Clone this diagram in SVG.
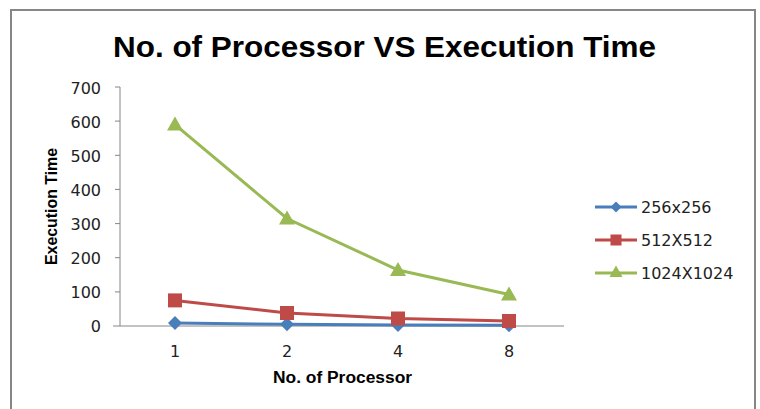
<svg xmlns="http://www.w3.org/2000/svg" width="760" height="409" viewBox="0 0 760 409">
  <style>
    .frame { fill: #ffffff; stroke: #868686; stroke-width: 2; }
    .axis { stroke: #868686; stroke-width: 1; fill: none; }
    .tick { font-family: "DejaVu Sans", Verdana, sans-serif; font-size: 16px; fill: #222; }
    .ylab { text-anchor: end; }
    .xlab { text-anchor: middle; }
    .title { font-family: "Liberation Sans", Arial, sans-serif; font-weight: bold; font-size: 30px; fill: #000; }
    .axtitle { font-family: "Liberation Sans", Arial, sans-serif; font-weight: bold; font-size: 16px; fill: #000; }
    .legend { font-family: "DejaVu Sans", Verdana, sans-serif; font-size: 16px; fill: #222; }
    .s1 { stroke: #4A7EBB; fill: none; stroke-width: 3; }
    .s2 { stroke: #BE4B48; fill: none; stroke-width: 3; }
    .s3 { stroke: #98B954; fill: none; stroke-width: 3; }
  </style>
  <defs>
    <path id="diamond" d="M0,-7 L7,0 L0,7 L-7,0 Z" fill="#4A7EBB"/>
    <rect id="square" x="-7" y="-7" width="14" height="14" fill="#BE4B48"/>
    <path id="triangle" d="M0,-8 L8,6 L-8,6 Z" fill="#98B954"/>
    <path id="diamond-s" d="M0,-5.5 L5.5,0 L0,5.5 L-5.5,0 Z" fill="#4A7EBB"/>
    <rect id="square-s" x="-5.5" y="-5.5" width="11" height="11" fill="#BE4B48"/>
    <path id="triangle-s" d="M0,-6.5 L6.5,5 L-6.5,5 Z" fill="#98B954"/>
  </defs>

  <rect class="frame" x="11" y="10" width="744" height="410"/>

  <text class="title" x="384.5" y="57" text-anchor="middle" textLength="543" lengthAdjust="spacingAndGlyphs">No. of Processor VS Execution Time</text>

  <!-- axes, ticks and axis labels -->
  <g id="axes">
    <path class="axis" d="M120,87 V326 M113,326 H564"/>
    <path class="axis" d="M115,87 H120 M115,121.1 H120 M115,155.3 H120 M115,189.4 H120 M115,223.6 H120 M115,257.7 H120 M115,291.9 H120"/>
    <text class="tick ylab" x="101" y="93.5">700</text>
    <text class="tick ylab" x="101" y="127.5">600</text>
    <text class="tick ylab" x="101" y="161.5">500</text>
    <text class="tick ylab" x="101" y="195.5">400</text>
    <text class="tick ylab" x="101" y="229.5">300</text>
    <text class="tick ylab" x="101" y="263.5">200</text>
    <text class="tick ylab" x="101" y="298">100</text>
    <text class="tick ylab" x="101" y="332">0</text>
    <text class="tick xlab" x="175" y="357">1</text>
    <text class="tick xlab" x="287" y="357">2</text>
    <text class="tick xlab" x="398" y="357">4</text>
    <text class="tick xlab" x="509" y="357">8</text>
    <text class="axtitle" x="342.5" y="383" text-anchor="middle" textLength="139" lengthAdjust="spacingAndGlyphs">No. of Processor</text>
    <text class="axtitle" transform="translate(57,206.5) rotate(-90)" text-anchor="middle" textLength="117" lengthAdjust="spacingAndGlyphs">Execution Time</text>
  </g>

  <!-- data series -->
  <g id="series-256">
    <polyline class="s1" points="175,323 287,324.3 398,325 509,325.3"/>
    <use href="#diamond" x="175" y="323"/>
    <use href="#diamond" x="287" y="324.3"/>
    <use href="#diamond" x="398" y="325"/>
    <use href="#diamond" x="509" y="325.3"/>
  </g>
  <g id="series-512">
    <polyline class="s2" points="175,300.4 287,313 398,318.5 509,321"/>
    <use href="#square" x="175" y="300.4"/>
    <use href="#square" x="287" y="313"/>
    <use href="#square" x="398" y="318.5"/>
    <use href="#square" x="509" y="321"/>
  </g>
  <g id="series-1024">
    <polyline class="s3" points="175,124.6 287,218.5 398,270 509,294.5"/>
    <use href="#triangle" x="175" y="124.6"/>
    <use href="#triangle" x="287" y="218.5"/>
    <use href="#triangle" x="398" y="270"/>
    <use href="#triangle" x="509" y="294.5"/>
  </g>

  <!-- legend -->
  <g id="legend">
    <line class="s1" x1="595" y1="207" x2="637" y2="207"/>
    <use href="#diamond-s" x="616" y="207"/>
    <text class="legend" x="641" y="213">256x256</text>
    <line class="s2" x1="595" y1="240" x2="637" y2="240"/>
    <use href="#square-s" x="616" y="240"/>
    <text class="legend" x="641" y="246">512X512</text>
    <line class="s3" x1="595" y1="273" x2="637" y2="273"/>
    <use href="#triangle-s" x="616" y="272"/>
    <text class="legend" x="641" y="279">1024X1024</text>
  </g>
</svg>
